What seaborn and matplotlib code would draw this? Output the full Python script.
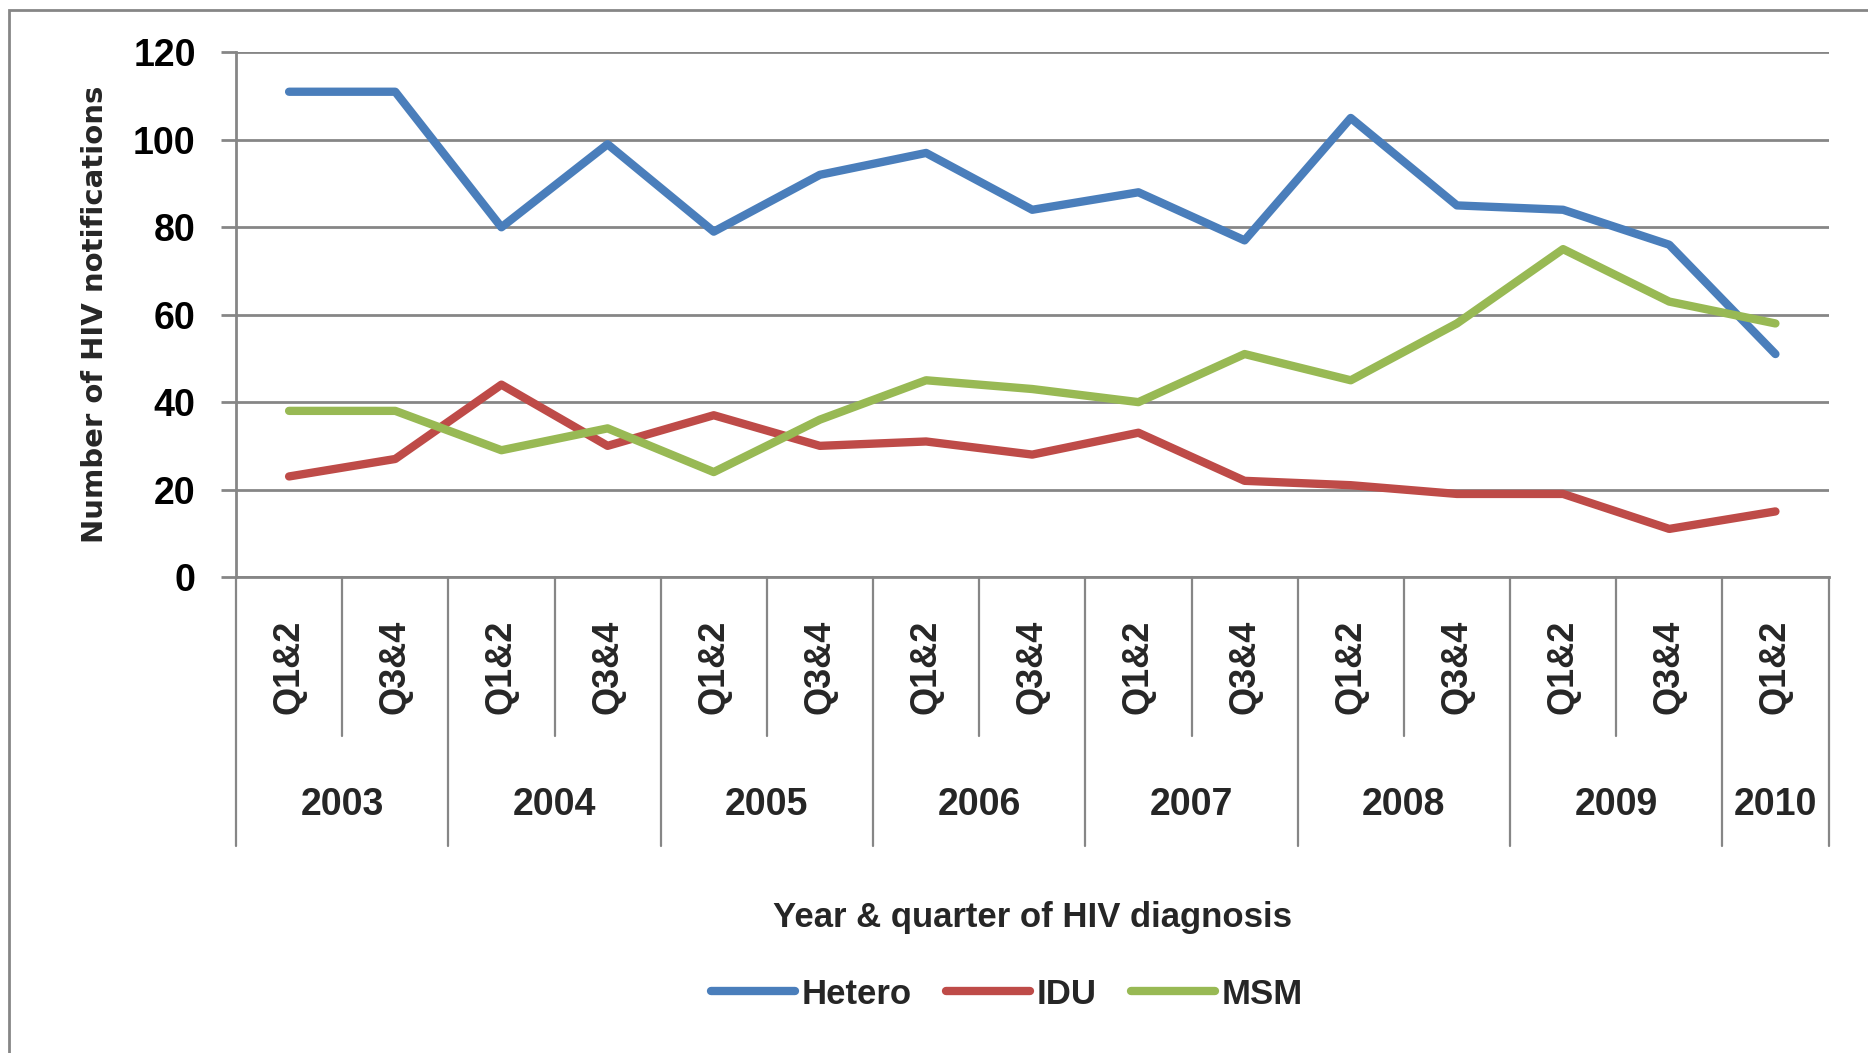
import numpy as np
import pandas as pd
import seaborn as sns
import matplotlib
matplotlib.use("Agg")
import matplotlib.pyplot as plt
import matplotlib.transforms as mtransforms
from matplotlib.patches import Rectangle
from matplotlib.lines import Line2D

# ---------------- data ----------------
quarters = ["Q1&2", "Q3&4", "Q1&2", "Q3&4", "Q1&2", "Q3&4", "Q1&2", "Q3&4",
            "Q1&2", "Q3&4", "Q1&2", "Q3&4", "Q1&2", "Q3&4", "Q1&2"]
years = ["2003", "2004", "2005", "2006", "2007", "2008", "2009", "2010"]
year_span = [2, 2, 2, 2, 2, 2, 2, 1]  # number of half-year periods in each year
hetero = [111, 111, 80, 99, 79, 92, 97, 84, 88, 77, 105, 85, 84, 76, 51]
idu = [23, 27, 44, 30, 37, 30, 31, 28, 33, 22, 21, 19, 19, 11, 15]
msm = [38, 38, 29, 34, 24, 36, 45, 43, 40, 51, 45, 58, 75, 63, 58]
series_names = ["Hetero", "IDU", "MSM"]
colors = {"Hetero": "#4A7EBB", "IDU": "#BE4B48", "MSM": "#98B954"}

pos = np.arange(len(quarters))
df = pd.concat([
    pd.DataFrame({"pos": pos, "value": hetero, "group": "Hetero"}),
    pd.DataFrame({"pos": pos, "value": idu, "group": "IDU"}),
    pd.DataFrame({"pos": pos, "value": msm, "group": "MSM"}),
])

# ---------------- style ----------------
sns.set_theme(style="white")
main_font = ["Liberation Sans", "DejaVu Sans"]
plt.rcParams["font.family"] = main_font
GRID = "#868686"

W, H = 1868, 1053
fig = plt.figure(figsize=(W / 100, H / 100), dpi=100)
ax_l, ax_r, ax_t, ax_b = 236, 1828.5, 52.4, 577
ax = fig.add_axes([ax_l / W, 1 - ax_b / H, (ax_r - ax_l) / W, (ax_b - ax_t) / H])

sns.lineplot(data=df, x="pos", y="value", hue="group", palette=colors,
             linewidth=6, ax=ax, legend=False, sort=False)

ax.set_xlim(-0.5, len(quarters) - 0.5)
ax.set_ylim(0, 120)
ax.set_yticks(np.arange(0, 121, 20))
ax.yaxis.grid(True, color=GRID, linewidth=2.0)
ax.set_axisbelow(True)
for s in ["top", "right"]:
    ax.spines[s].set_visible(False)
for s in ["left", "bottom"]:
    ax.spines[s].set_color(GRID)
    ax.spines[s].set_linewidth(2.0)

ax.tick_params(axis="y", length=11, width=2.0, color=GRID, pad=18,
               labelsize=27, labelcolor="black", direction="out", left=True)
for lab in ax.get_yticklabels():
    lab.set_fontweight("bold")

ax.set_xticks(pos)
ax.set_xticklabels(quarters, rotation=90, fontsize=26, fontweight="bold")
ax.tick_params(axis="x", length=0, pad=31, bottom=False)

ax.set_xlabel("")
ax.set_ylabel("Number of HIV notifications", fontsize=21, fontweight="bold",
              family="DejaVu Sans", labelpad=17)

# category separators below the axis
trans = mtransforms.blended_transform_factory(ax.transData, ax.transAxes)
ax_h = ax_b - ax_t
y_q = -(736 - ax_b) / ax_h
y_y = -(846 - ax_b) / ax_h
year_edges = np.concatenate([[0], np.cumsum(year_span)]) - 0.5
for b in np.arange(0.5, len(quarters) - 0.5, 1.0):
    if not np.any(np.isclose(year_edges, b)):
        ax.plot([b, b], [0, y_q], transform=trans, color=GRID, lw=1.6, clip_on=False)
for b in year_edges:
    ax.plot([b, b], [0, y_y], transform=trans, color=GRID, lw=1.6, clip_on=False)

y_year_txt = -(805 - ax_b) / ax_h
for i, yr in enumerate(years):
    c = (year_edges[i] + year_edges[i + 1]) / 2
    ax.text(c, y_year_txt, yr, transform=trans, ha="center", va="center",
            fontsize=27, fontweight="bold")

fig.text((ax_l + ax_r) / 2 / W, 1 - 917 / H, "Year & quarter of HIV diagnosis",
         ha="center", va="center", fontsize=25, fontweight="bold")

handles = [Line2D([], [], color=colors[n], lw=6) for n in series_names]
fig.legend(handles, series_names, loc="center", bbox_to_anchor=(1007 / W, 1 - 994 / H),
           ncol=3, frameon=False, handlelength=2.4, handletextpad=0.2,
           columnspacing=1.0, prop={"size": 25, "weight": "bold", "family": main_font})

# chart area border
fig.patches.append(Rectangle((9 / W, -0.1), 1.2, 1 - 10 / H + 0.1, transform=fig.transFigure,
                             fill=False, edgecolor=GRID, lw=2.0, clip_on=False))

fig.savefig("out.png", dpi=100)
